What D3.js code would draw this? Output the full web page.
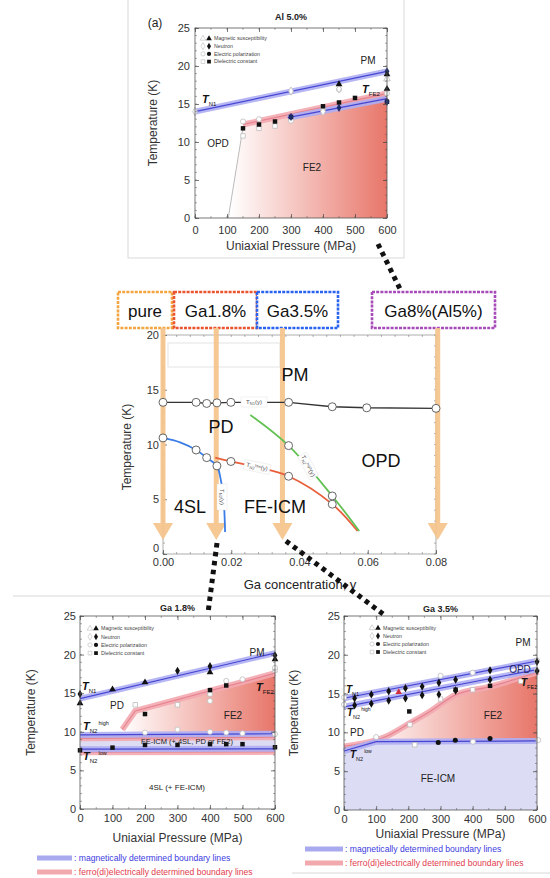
<!DOCTYPE html>
<html><head><meta charset="utf-8">
<script src="https://cdn.jsdelivr.net/npm/d3@7"></script>
<style>body{margin:0;background:#fff} svg{display:block;font-family:"Liberation Sans",Arial,sans-serif}</style>
</head><body><svg id="c" width="550" height="878"></svg>
<script>
// ================= DATA =================
const pressureTicks = [0,100,200,300,400,500,600];
const tempTicks = [0,5,10,15,20,25];
const concTicks = [0,0.02,0.04,0.06,0.08];
const concTempTicks = [0,5,10,15,20];
const legendNames = ["Magnetic susceptibility","Neutron","Electric polarization","Dielectric constant"];

// --- Al 5.0% (top panel) ---
const alTN1 = [[0,14.0],[600,19.3]];
const alTFE2 = [[150,12.3],[600,16.4]];
const alBlueLow = [[290,13.2],[600,15.7]];
const alOpdBoundary = [[104,0],[146,10.9],[150,12.0]];
const alFE2Area = [[104,0],[146,10.9],[150,12.3],[600,16.4],[600,0]];
const alTriFilled = [[450,17.6],[600,18.9],[600,17.0]];
const alTriOpen = [[600,18.3]];
const alDiaFilled = [[600,19.3],[300,13.3],[450,14.5],[600,15.3]];
const alDiaOpen = [[0,14.0],[300,16.7],[450,17.0],[400,14.0]];
const alCirOpen = [[150,12.7],[200,13.0],[300,12.8],[450,16.9],[600,16.4]];
const alSqFilled = [[150,11.8],[200,12.3],[250,12.7],[300,13.3],[400,14.7],[450,15.2],[500,15.8],[600,15.3]];
const alSqOpen = [[150,10.8],[200,11.8],[250,12.1],[400,14.4]];

// --- Ga concentration phase diagram (middle) ---
const concLabels = ["pure","Ga1.8%","Ga3.5%","Ga8%(Al5%)"];
const concArrowAt = [0,0.0156,0.035,0.0805];
const tn1Conc = [0,0.0097,0.0128,0.0158,0.0199,0.0368,0.0496,0.0597,0.08];
const tn1Temp = [13.85,13.85,13.75,13.8,13.85,13.85,13.45,13.35,13.3];
const tn2Curve = [[0,10.6],[0.005,10.2],[0.0097,9.5],[0.0128,8.8],[0.0158,8.05],[0.0168,7.0],[0.0177,5.2],[0.0182,2.0]];
const tn2Circles = [[0,10.6],[0.0097,9.5],[0.0128,8.8],[0.0158,8.05]];
const tn2lowCurve = [[0.0153,8.8],[0.0199,8.45],[0.028,7.9],[0.0368,7.1],[0.0496,4.55],[0.057,2.1]];
const tn2lowCircles = [[0.0199,8.45],[0.0368,7.1],[0.0496,4.55]];
const tn2highCurve = [[0.0256,12.7],[0.0368,9.9],[0.0496,5.3],[0.0575,2.1]];
const tn2highCircles = [[0.0368,9.9],[0.0496,5.3]];

// --- Ga 1.8% (bottom left) ---
const g18TN1 = [[0,14.3],[600,20.2]];
const g18TFE2 = [[130,10.3],[170,12.7],[600,17.6]];
const g18FE2Area = [[130,9.8],[130,10.3],[170,12.7],[600,17.6],[600,9.8]];
const g18TN2highMag = [[0,9.6],[600,9.75]];
const g18TN2highFE = [[0,9.15],[600,9.3]];
const g18TN2lowMag = [[0,7.75],[600,7.8]];
const g18TN2lowFE = [[0,7.35],[600,7.4]];
const g18IcmArea = [[0,7.8],[0,9.6],[600,9.75],[600,7.8]];
const g18TriFilled = [[0,13.7],[100,15.5],[200,16.4],[400,17.7],[600,19.4]];
const g18DiaFilled = [[0,14.9],[300,17.9],[400,18.5],[600,19.9]];
const g18SqFilled = [[200,12.3],[400,15.4],[450,16.0],[0,7.6],[100,7.95],[200,8.3],[300,8.3],[400,8.4],[450,8.4],[500,8.4],[600,8.0]];
const g18SqOpen = [[170,13.5],[300,13.5],[400,14.9],[600,18.0]];
const g18CirOpen = [[400,14.0],[450,16.6],[500,16.8],[600,18.3],[200,9.9],[300,10.3],[400,10.0],[450,9.9],[500,9.8],[600,9.7]];

// --- Ga 3.5% (bottom right) ---
const g35TN1 = [[0,14.4],[600,19.2]];
const g35TN2high = [[0,13.3],[600,18.1]];
const g35TFE2 = [[0,8.2],[100,9.0],[127,9.4],[205,11.2],[267,12.7],[345,14.8],[454,15.9],[604,17.8]];
const g35TN2low = [[0,7.6],[100,8.8],[600,8.9]];
const g35DiaFilled = [[33,14.4],[85,14.9],[139,15.3],[191,15.7],[243,15.9],[295,16.4],[347,16.8],[454,18.0],[600,19.1],
                      [33,13.5],[85,13.7],[139,14.1],[191,14.4],[243,14.8],[295,14.9],[347,15.4],[454,16.8],[600,17.9]];
const g35TriFilled = [[170,15.2]];
const g35CirFilled = [[293,8.7],[346,9.0],[454,9.2]];
const g35CirOpen = [[0,14.5],[0,13.6],[100,9.4],[300,17.3],[400,17.7],[600,19.3],[600,18.0],[401,8.8],[604,9.0]];
const g35SqFilled = [[203,12.7],[347,15.5],[454,16.0]];
const g35SqOpen = [[205,11.0],[300,14.3],[400,15.5],[550,16.6],[220,8.4]];

// ================= DRAWING =================
const svg = d3.select("#c");
const defs = svg.append("defs");
const SYM = {tri:d3.symbolTriangle, dia:d3.symbolDiamond, cir:d3.symbolCircle, sq:d3.symbolSquare};

function grad(id, x1, x2){
  const gr = defs.append("linearGradient").attr("id",id).attr("gradientUnits","userSpaceOnUse")
    .attr("x1",x1).attr("x2",x2).attr("y1",0).attr("y2",0);
  gr.append("stop").attr("offset",0).attr("stop-color","#ffffff");
  gr.append("stop").attr("offset",1).attr("stop-color","#e8766a");
}
function pts(g,x,y,data,type,filled,size,color){
  g.append("g").selectAll("path").data(data).join("path")
    .attr("d", d3.symbol(SYM[type], size||20))
    .attr("transform", d=>`translate(${x(d[0])},${y(d[1])})`)
    .attr("fill", filled ? (color||"#111") : "#fff")
    .attr("stroke", filled ? "none" : "#bdbdbd").attr("stroke-width",0.8);
}
function band(g,line,data,kind){
  const c = kind==="mag" ? ["#aeaef3","#4646d2"] : ["#f3a9b0","#e58490"];
  g.append("path").attr("d",line(data)).attr("fill","none").attr("stroke",c[0]).attr("stroke-width",6).attr("opacity",0.9);
  g.append("path").attr("d",line(data)).attr("fill","none").attr("stroke",c[1]).attr("stroke-width",1.2);
}
function tLabel(g,x,y,sub,sup,size,anchor){
  const t = g.append("text").attr("x",x).attr("y",y).attr("font-size",size).attr("fill","#111")
    .attr("text-anchor",anchor||"start");
  t.append("tspan").text("T").attr("font-style","italic").attr("font-weight","bold");
  t.append("tspan").text(sub).attr("font-size",size*0.55).attr("dy",size*0.25);
  if(sup){ t.append("tspan").text(sup).attr("font-size",size*0.5).attr("dx",1).attr("dy",-size*0.75); }
}
function txt(g,x,y,s,size,opt){
  opt = opt||{};
  return g.append("text").attr("x",x).attr("y",y).attr("dy","0.35em").attr("text-anchor",opt.anchor||"middle")
    .attr("font-size",size).attr("fill",opt.fill||"#222").attr("font-weight",opt.weight||"normal").text(s);
}
function styleAxis(sel,size){
  sel.attr("font-family",null).attr("font-size",size);
  sel.select(".domain").remove();
  sel.selectAll(".tick line").attr("stroke","#444").attr("stroke-width",0.7);
  sel.selectAll(".tick text").attr("fill","#333");
}
function pressureFrame(g,x,y,p){
  g.append("rect").attr("x",p.left).attr("y",p.top).attr("width",p.right-p.left).attr("height",p.bottom-p.top)
    .attr("fill","none").attr("stroke","#555").attr("stroke-width",0.8);
  g.append("g").attr("transform",`translate(0,${p.bottom})`)
    .call(d3.axisBottom(x).tickValues(pressureTicks).tickSizeInner(-4).tickSizeOuter(0).tickPadding(p.xpad))
    .call(s=>styleAxis(s,p.fs));
  g.append("g").attr("transform",`translate(${p.left},0)`)
    .call(d3.axisLeft(y).tickValues(tempTicks).tickSizeInner(-4).tickSizeOuter(0).tickPadding(p.ypad))
    .call(s=>styleAxis(s,p.fs));
  g.append("g").attr("transform",`translate(0,${p.top})`)
    .call(d3.axisTop(x).tickValues(pressureTicks).tickFormat("").tickSizeInner(-4).tickSizeOuter(0)).call(s=>styleAxis(s,p.fs));
  g.append("g").attr("transform",`translate(${p.right},0)`)
    .call(d3.axisRight(y).tickValues(tempTicks).tickFormat("").tickSizeInner(-4).tickSizeOuter(0)).call(s=>styleAxis(s,p.fs));
  const mx = d3.range(0,601,50), my = d3.range(0,26,1);
  const mt = g.append("g").attr("stroke","#555").attr("stroke-width",0.5);
  mx.forEach(v=>{ mt.append("line").attr("x1",x(v)).attr("x2",x(v)).attr("y1",p.bottom).attr("y2",p.bottom-2);
                  mt.append("line").attr("x1",x(v)).attr("x2",x(v)).attr("y1",p.top).attr("y2",p.top+2); });
  my.forEach(v=>{ mt.append("line").attr("y1",y(v)).attr("y2",y(v)).attr("x1",p.left).attr("x2",p.left+2);
                  mt.append("line").attr("y1",y(v)).attr("y2",y(v)).attr("x1",p.right).attr("x2",p.right-2); });
  txt(g,(p.left+p.right)/2,p.xtitleY,"Uniaxial Pressure (MPa)",12,{fill:"#333"});
  g.append("text").attr("transform",`translate(${p.ytitleX},${(p.top+p.bottom)/2}) rotate(-90)`)
    .attr("text-anchor","middle").attr("font-size",12).attr("fill","#333").text("Temperature (K)");
  txt(g,(p.left+p.right)/2,p.titleY,p.title,9,{weight:"bold",fill:"#222"});
  const types = ["tri","dia","cir","sq"];
  types.forEach((t,i)=>{
    const yy = p.legY + i*p.legDy;
    g.append("path").attr("d",d3.symbol(SYM[t],14)).attr("transform",`translate(${p.legX},${yy})`)
      .attr("fill","#fff").attr("stroke","#c4c4c4").attr("stroke-width",0.7);
    g.append("path").attr("d",d3.symbol(SYM[t],14)).attr("transform",`translate(${p.legX+6},${yy})`).attr("fill","#111");
    g.append("text").attr("x",p.legX+11).attr("y",yy).attr("dy","0.35em").attr("font-size",5.3).attr("fill","#444").text(legendNames[i]);
  });
}

// ---------- TOP PANEL : Al 5.0% ----------
(function(){
  svg.append("rect").attr("x",128).attr("y",-1).attr("width",276).attr("height",259).attr("fill","none").attr("stroke","#d9d9d9");
  const p = {left:195,right:387,top:28,bottom:218,xpad:8,ypad:5,fs:11,xtitleY:246,ytitleX:157,titleY:17,title:"Al 5.0%",legX:203,legY:38.5,legDy:7.7};
  const g = svg.append("g");
  const x = d3.scaleLinear().domain([0,600]).range([p.left,p.right]);
  const y = d3.scaleLinear().domain([0,25]).range([p.bottom,p.top]);
  const line = d3.line().x(d=>x(d[0])).y(d=>y(d[1]));
  grad("gAl", x(110), x(600));
  g.append("path").attr("d",line(alFE2Area)+"Z").attr("fill","url(#gAl)");
  g.append("path").attr("d",line(alOpdBoundary)).attr("fill","none").attr("stroke","#aaa").attr("stroke-width",0.8);
  band(g,line,alTFE2,"fe");
  band(g,line,alBlueLow,"mag");
  band(g,line,alTN1,"mag");
  pts(g,x,y,alSqOpen,"sq",false);
  pts(g,x,y,alCirOpen,"cir",false);
  pts(g,x,y,alDiaOpen,"dia",false);
  pts(g,x,y,alTriOpen,"tri",false);
  pts(g,x,y,alSqFilled,"sq",true);
  pts(g,x,y,alDiaFilled,"dia",true,20,"#1c2a6a");
  pts(g,x,y,alTriFilled,"tri",true);
  pressureFrame(g,x,y,p);
  txt(g,155,23,"(a)",12,{fill:"#222"});
  txt(g,368,60,"PM",10);
  txt(g,218,143,"OPD",10);
  txt(g,312,167,"FE2",10);
  tLabel(g,202,103,"N1",null,11);
  tLabel(g,362,93,"FE2",null,11);
})();

// ---------- MIDDLE PANEL : Ga concentration ----------
(function(){
  const p = {left:163,right:436,top:335,bottom:554};
  const g = svg.append("g");
  const x = d3.scaleLinear().domain([0,0.08]).range([p.left,p.right]);
  const y = d3.scaleLinear().domain([0,20]).range([p.bottom,p.top]);
  const curve = d3.line().x(d=>x(d[0])).y(d=>y(d[1])).curve(d3.curveCatmullRom.alpha(0.5));
  g.append("rect").attr("x",p.left).attr("y",p.top).attr("width",p.right-p.left).attr("height",p.bottom-p.top)
    .attr("fill","none").attr("stroke","#999").attr("stroke-width",0.8);
  g.append("rect").attr("x",168).attr("y",343).attr("width",112).attr("height",24).attr("fill","none").attr("stroke","#e4e4e4");
  const ax = g.append("g").attr("transform",`translate(0,${p.bottom})`)
    .call(d3.axisBottom(x).tickValues(concTicks).tickFormat(d3.format(".2f")).tickSizeInner(-4).tickSizeOuter(0).tickPadding(4));
  styleAxis(ax,11);
  const ay = g.append("g").attr("transform",`translate(${p.left},0)`)
    .call(d3.axisLeft(y).tickValues(concTempTicks).tickSizeInner(-4).tickSizeOuter(0).tickPadding(4));
  styleAxis(ay,11);
  ay.selectAll(".tick text").filter(d=>d===0).attr("dy","-0.25em");
  const mt = g.append("g").attr("stroke","#666").attr("stroke-width",0.5);
  d3.range(0,0.0801,0.004).forEach(v=>{
    mt.append("line").attr("x1",x(v)).attr("x2",x(v)).attr("y1",p.bottom).attr("y2",p.bottom-2);
    mt.append("line").attr("x1",x(v)).attr("x2",x(v)).attr("y1",p.top).attr("y2",p.top+2);
  });
  d3.range(0,20.1,1).forEach(v=>{
    mt.append("line").attr("y1",y(v)).attr("y2",y(v)).attr("x1",p.left).attr("x2",p.left+2);
    mt.append("line").attr("y1",y(v)).attr("y2",y(v)).attr("x1",p.right).attr("x2",p.right-2);
  });
  txt(g,300,584,"Ga concentration, y",13,{fill:"#222"});
  g.append("text").attr("transform",`translate(127,447) rotate(-90)`).attr("dy","0.35em")
    .attr("text-anchor","middle").attr("font-size",12).attr("fill","#333").text("Temperature (K)");

  const boxX = [[118,172],[174,257],[257,338],[372,495]];
  const boxCol = ["#f2a540","#e9552f","#2a63f0","#a64bb8"];
  concLabels.forEach((s,i)=>{
    svg.append("rect").attr("x",boxX[i][0]).attr("y",292).attr("width",boxX[i][1]-boxX[i][0]).attr("height",36)
      .attr("fill","#fff").attr("stroke",boxCol[i]).attr("stroke-width",2.6).attr("stroke-dasharray","3,1.2");
    svg.append("text").attr("x",(boxX[i][0]+boxX[i][1])/2).attr("y",317).attr("text-anchor","middle")
      .attr("font-size",17).attr("fill","#111").text(s);
  });
  const ar = svg.append("g").attr("fill","#f5c48c").attr("stroke","none").attr("opacity",0.92);
  concArrowAt.forEach(v=>{
    const xx = x(v);
    ar.append("rect").attr("x",xx-2.5).attr("y",328).attr("width",5).attr("height",197);
    ar.append("path").attr("d",`M${xx-10},523L${xx+10},523L${xx},540Z`);
  });
  const dg = svg.append("g");
  const tn1 = tn1Conc.map((c,i)=>[c,tn1Temp[i]]);
  dg.append("path").attr("d",d3.line().x(d=>x(d[0])).y(d=>y(d[1]))(tn1)).attr("fill","none").attr("stroke","#333").attr("stroke-width",1.4);
  dg.append("path").attr("d",curve(tn2Curve)).attr("fill","none").attr("stroke","#3b7de6").attr("stroke-width",1.8);
  dg.append("path").attr("d",curve(tn2lowCurve)).attr("fill","none").attr("stroke","#e8603c").attr("stroke-width",1.8);
  dg.append("path").attr("d",curve(tn2highCurve)).attr("fill","none").attr("stroke","#62c152").attr("stroke-width",1.8);
  const circ = d=>dg.append("g").selectAll("circle").data(d).join("circle")
    .attr("cx",a=>x(a[0])).attr("cy",a=>y(a[1])).attr("r",4).attr("fill","#fff").attr("stroke","#555").attr("stroke-width",0.9);
  circ(tn1); circ(tn2Circles); circ(tn2lowCircles); circ(tn2highCircles);
  function smallLab(xx,yy,rot,sub,sup){
    const lg = dg.append("g").attr("transform",`translate(${xx},${yy}) rotate(${rot})`);
    lg.append("rect").attr("x",-13).attr("y",-5).attr("width",26).attr("height",10).attr("fill","#fff").attr("stroke","#ddd").attr("stroke-width",0.4);
    const t = lg.append("text").attr("text-anchor","middle").attr("dy","0.3em").attr("font-size",6).attr("fill","#555");
    t.append("tspan").text("T");
    t.append("tspan").text(sub).attr("font-size",4).attr("dy",1.5);
    if(sup) t.append("tspan").text(sup).attr("font-size",4).attr("dy",-3);
    t.append("tspan").text("(y)").attr("dy",sup?1.5:-1.5);
  }
  smallLab(254,402,0,"N1",null);
  smallLab(257,467,12,"N2","low");
  smallLab(308,466,62,"N2","high");
  smallLab(222,497,90,"N2",null);
  const lab = (s,xx,yy)=>svg.append("text").attr("x",xx).attr("y",yy).attr("text-anchor","middle").attr("font-size",18).attr("fill","#111").text(s);
  lab("PM",295,381); lab("PD",221,433); lab("OPD",381,467); lab("4SL",190,513); lab("FE-ICM",275,513);
})();

// ---------- BOTTOM LEFT : Ga 1.8% ----------
(function(){
  const p = {left:80,right:275,top:616,bottom:809,xpad:5,ypad:4,fs:11,xtitleY:838,ytitleX:35,titleY:608,title:"Ga 1.8%",legX:90,legY:628.5,legDy:8.2};
  const g = svg.append("g");
  const x = d3.scaleLinear().domain([0,600]).range([p.left,p.right]);
  const y = d3.scaleLinear().domain([0,25]).range([p.bottom,p.top]);
  const line = d3.line().x(d=>x(d[0])).y(d=>y(d[1]));
  grad("g18", x(130), x(600));
  g.append("path").attr("d",line(g18IcmArea)+"Z").attr("fill","#dedcf3");
  g.append("path").attr("d",line(g18FE2Area)+"Z").attr("fill","url(#g18)");
  band(g,line,g18TN2highFE,"fe");
  band(g,line,g18TN2lowFE,"fe");
  band(g,line,g18TN2highMag,"mag");
  band(g,line,g18TN2lowMag,"mag");
  band(g,line,g18TFE2,"fe");
  band(g,line,g18TN1,"mag");
  pts(g,x,y,g18SqOpen,"sq",false);
  pts(g,x,y,g18CirOpen,"cir",false);
  pts(g,x,y,g18SqFilled,"sq",true);
  pts(g,x,y,g18DiaFilled,"dia",true);
  pts(g,x,y,g18TriFilled,"tri",true);
  pressureFrame(g,x,y,p);
  txt(g,257,652,"PM",10);
  txt(g,117,705,"PD",10);
  txt(g,233,715,"FE2",10);
  txt(g,187,741,"FE-ICM (+ 4SL, PD or FE2)",7.5);
  txt(g,177,787,"4SL (+ FE-ICM)",8);
  tLabel(g,82,690,"N1",null,11);
  tLabel(g,256,691,"FE2",null,11);
  tLabel(g,83,730,"N2","high",11);
  tLabel(g,83,760,"N2","low",11);
  const lg = svg.append("g");
  lg.append("line").attr("x1",37).attr("x2",72).attr("y1",858).attr("y2",858).attr("stroke","#a9a9f0").attr("stroke-width",5);
  lg.append("text").attr("x",74).attr("y",858).attr("dy","0.35em").attr("font-size",8.6).attr("fill","#3b3be0").text(": magnetically determined boundary lines");
  lg.append("line").attr("x1",37).attr("x2",72).attr("y1",872).attr("y2",872).attr("stroke","#f2a9ae").attr("stroke-width",5);
  lg.append("text").attr("x",74).attr("y",872).attr("dy","0.35em").attr("font-size",8.6).attr("fill","#e23c4e").text(": ferro(di)electrically determined boundary lines");
})();

// ---------- BOTTOM RIGHT : Ga 3.5% ----------
(function(){
  const p = {left:344,right:537,top:616,bottom:810,xpad:5,ypad:4,fs:11,xtitleY:834,ytitleX:298,titleY:609,title:"Ga 3.5%",legX:372,legY:628,legDy:8};
  const g = svg.append("g");
  const x = d3.scaleLinear().domain([0,600]).range([p.left,p.right]);
  const y = d3.scaleLinear().domain([0,25]).range([p.bottom,p.top]);
  const line = d3.line().x(d=>x(d[0])).y(d=>y(d[1]));
  const curve = d3.line().x(d=>x(d[0])).y(d=>y(d[1])).curve(d3.curveMonotoneX);
  grad("g35", x(60), x(600));
  g.append("path").attr("d",line([[0,0]].concat(g35TN2low,[[600,0]]))+"Z").attr("fill","#dcdcf4");
  const upper = curve(g35TFE2.filter(d=>d[0]<=600).concat([[600,17.75]]));
  const lowerRev = g35TN2low.slice().reverse().map(d=>`L${x(d[0])},${y(d[1])}`).join("");
  g.append("path").attr("d",upper+lowerRev+"Z").attr("fill","url(#g35)");
  band(g,curve,g35TFE2,"fe");
  band(g,line,g35TN2low,"mag");
  band(g,line,g35TN2high,"mag");
  band(g,line,g35TN1,"mag");
  pts(g,x,y,g35SqOpen,"sq",false);
  pts(g,x,y,g35CirOpen,"cir",false);
  pts(g,x,y,g35SqFilled,"sq",true);
  pts(g,x,y,g35CirFilled,"cir",true);
  pts(g,x,y,g35DiaFilled,"dia",true);
  pts(g,x,y,g35TriFilled,"tri",true,18,"#d23040");
  pressureFrame(g,x,y,p);
  txt(g,523,642,"PM",10);
  txt(g,520,669,"OPD",10,{fill:"#24245a"});
  txt(g,357,732,"PD",10);
  txt(g,493,715,"FE2",10);
  txt(g,438,778,"FE-ICM",10);
  tLabel(g,346,693,"N1",null,10);
  tLabel(g,347,716,"N2","high",10);
  tLabel(g,521,686,"FE2",null,10);
  tLabel(g,350,758,"N2","low",10);
  const lg = svg.append("g");
  lg.append("line").attr("x1",305).attr("x2",343).attr("y1",849).attr("y2",849).attr("stroke","#a9a9f0").attr("stroke-width",5);
  lg.append("text").attr("x",345).attr("y",849).attr("dy","0.35em").attr("font-size",8.6).attr("fill","#3b3be0").text(": magnetically determined boundary lines");
  lg.append("line").attr("x1",305).attr("x2",343).attr("y1",863).attr("y2",863).attr("stroke","#f2a9ae").attr("stroke-width",5);
  lg.append("text").attr("x",345).attr("y",863).attr("dy","0.35em").attr("font-size",8.6).attr("fill","#e23c4e").text(": ferro(di)electrically determined boundary lines");
})();

svg.append("line").attr("x1",13).attr("x2",550).attr("y1",596).attr("y2",596).attr("stroke","#d8d8d8");
svg.append("line").attr("x1",292).attr("x2",550).attr("y1",873).attr("y2",873).attr("stroke","#d8d8d8");

const conn = svg.append("g").attr("stroke","#111").attr("stroke-width",5).attr("stroke-dasharray","4.5,4.5").attr("fill","none");
conn.append("line").attr("x1",378).attr("y1",244).attr("x2",401).attr("y2",291);
conn.append("line").attr("x1",217).attr("y1",543).attr("x2",208).attr("y2",613);
conn.append("line").attr("x1",286).attr("y1",541).attr("x2",383).attr("y2",614);
</script>
</body></html>
